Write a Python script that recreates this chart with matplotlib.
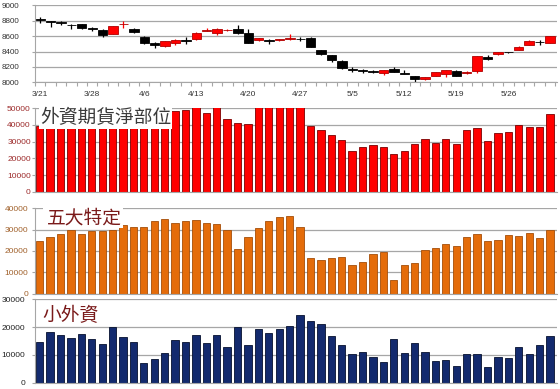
import numpy as np
import matplotlib.pyplot as plt
from matplotlib.patches import Rectangle

plt.rcParams['font.family'] = ['Liberation Sans', 'Noto Sans CJK TC', 'DejaVu Sans']

# Date labels shown every 5 trading days
date_labels = ['3/21', '3/28', '4/6', '4/13', '4/20', '4/27', '5/5', '5/12', '5/19', '5/26']

# Daily index OHLC
price_open = [8820, 8790, 8775, 8745, 8750, 8700, 8680, 8625, 8750, 8690,
              8590, 8515, 8465, 8515, 8545, 8560, 8670, 8640, 8675, 8690,
              8635, 8555, 8550, 8545, 8565, 8565, 8580, 8420, 8355, 8280,
              8170, 8155, 8145, 8125, 8180, 8120, 8080, 8040, 8085, 8110,
              8150, 8125, 8150, 8323, 8365, 8395, 8420, 8485, 8528, 8515]
price_high = [8840, 8800, 8800, 8760, 8760, 8720, 8690, 8735, 8800, 8700,
              8600, 8520, 8535, 8560, 8590, 8650, 8710, 8700, 8690, 8740,
              8690, 8570, 8560, 8565, 8625, 8590, 8585, 8425, 8360, 8285,
              8200, 8170, 8160, 8165, 8200, 8160, 8090, 8070, 8140, 8160,
              8165, 8150, 8345, 8355, 8400, 8400, 8465, 8550, 8555, 8605]
price_low = [8770, 8720, 8740, 8690, 8690, 8670, 8590, 8620, 8700, 8640,
             8500, 8450, 8455, 8480, 8500, 8555, 8660, 8610, 8670, 8630,
             8510, 8530, 8500, 8530, 8545, 8530, 8455, 8360, 8260, 8180,
             8140, 8120, 8120, 8100, 8130, 8110, 8010, 8030, 8080, 8070,
             8080, 8110, 8120, 8290, 8360, 8385, 8415, 8480, 8485, 8510]
price_close = [8810, 8785, 8770, 8740, 8700, 8695, 8615, 8730, 8755, 8650,
               8515, 8490, 8530, 8555, 8530, 8645, 8677, 8690, 8677, 8635,
               8515, 8568, 8540, 8560, 8575, 8560, 8460, 8370, 8285, 8185,
               8165, 8150, 8130, 8160, 8140, 8115, 8050, 8065, 8135, 8155,
               8085, 8134, 8340, 8300, 8395, 8390, 8460, 8530, 8524, 8600]

# Foreign futures net position (bars 2-13 are hidden under the title box)
foreign_net = [39500, 44000, 45000, 43000, 44500, 46000, 45000, 44000, 43500, 45500,
               46000, 47000, 47500, 48400, 48800, 52000, 46800, 52000, 43400, 41000,
               40600, 52000, 52000, 52000, 52000, 52000, 39400, 36800, 33800, 31200,
               24400, 26600, 28200, 27000, 22600, 24400, 28600, 31800, 29000, 31800,
               28800, 37200, 38000, 30400, 35000, 36000, 40000, 38600, 38800, 46600]

# Top five traders
big_five = [24700, 26400, 28100, 30000, 28000, 29100, 29100, 30000, 32000, 31200,
            31200, 33800, 34700, 33000, 34100, 34400, 33000, 32500, 30000, 20900,
            26700, 30800, 33800, 35800, 36400, 31200, 16900, 15900, 16700, 17300,
            13600, 15000, 18600, 19700, 6600, 13300, 14400, 20600, 21300, 23300,
            22300, 26600, 27700, 24700, 25300, 27300, 27000, 28300, 25800, 30000]

# Small foreign traders
small_foreign = [14600, 18300, 17000, 15900, 17600, 15700, 13900, 19900, 16500, 14800,
                 7200, 8600, 10800, 15200, 14800, 17200, 14200, 17000, 12800, 20100,
                 13600, 19300, 18000, 19300, 20200, 24200, 22300, 21000, 16900, 13600,
                 10400, 11200, 9200, 7500, 15700, 10800, 14200, 11100, 7800, 8000,
                 6000, 10200, 10200, 5700, 9400, 8800, 12800, 10200, 13400, 16600]

n = len(price_open)
x = np.arange(n)
xlim = (-0.45, n - 1 + 0.72)
grid_color = '#a6a6a6'

fig = plt.figure(figsize=(5.6, 3.89), dpi=100)
left, width = 0.0625, 0.933
ax_k = fig.add_axes([left, 0.788, width, 0.199])
ax_f = fig.add_axes([left, 0.507, width, 0.215])
ax_b = fig.add_axes([left, 0.245, width, 0.220])
ax_s = fig.add_axes([left, 0.016, width, 0.215])


def style_axis(ax, ymin, ymax, step, label_color, pad, size=6):
    ax.set_xlim(*xlim)
    ax.set_ylim(ymin, ymax)
    ax.set_yticks(np.arange(ymin, ymax + 1, step))
    ax.yaxis.grid(True, color=grid_color, linewidth=0.9)
    ax.set_axisbelow(True)
    for side in ['top', 'right']:
        ax.spines[side].set_visible(False)
    ax.spines['left'].set_color(grid_color)
    ax.spines['bottom'].set_color(grid_color)
    ax.tick_params(axis='y', length=2, width=0.8, color=grid_color, pad=pad,
                   labelsize=size, labelcolor=label_color)
    ax.set_xticks([])


# Candlestick panel
style_axis(ax_k, 8000, 9000, 200, '#333333', 9, 5.8)
body_low = np.minimum(price_open, price_close)
body_h = np.maximum(np.abs(np.array(price_close) - np.array(price_open)), 5)
colors = ['#ff0000' if c > o else '#000000' for o, c in zip(price_open, price_close)]
edges = ['#b00000' if c > o else '#000000' for o, c in zip(price_open, price_close)]
ax_k.vlines(x, price_low, price_high, color=colors, linewidth=0.9, zorder=2)
ax_k.bar(x, body_h, bottom=body_low, width=0.9, color=colors, edgecolor=edges,
         linewidth=0.6, zorder=3)
ax_k.set_xticks(np.arange(-0.5, n, 1))
ax_k.set_xticklabels([])
ax_k.tick_params(axis='x', length=3, width=0.8, color=grid_color)
ax_k.set_xticks(np.arange(0, n, 5), minor=True)
ax_k.set_xticklabels(date_labels, minor=True)
ax_k.tick_params(axis='x', which='minor', length=0, pad=6, labelsize=6, labelcolor='#333333')

# Foreign futures net position
style_axis(ax_f, 0, 50000, 10000, '#9c2a2a', 1)
ax_f.bar(x, foreign_net, width=0.7, color='#ff0000', edgecolor='#7a0000', linewidth=0.6)
ax_f.add_patch(Rectangle((0.008, 0.752), 0.254, 0.26, transform=ax_f.transAxes,
                         facecolor='white', edgecolor='none', zorder=4, clip_on=False))
ax_f.text(0.0096, 0.885, '外資期貨淨部位', transform=ax_f.transAxes, fontsize=13.5,
          family=['Noto Sans CJK TC'], color='#3a3a3a', va='center', ha='left', zorder=5)

# Top five traders
style_axis(ax_b, 0, 40000, 10000, '#a0602a', 3)
ax_b.bar(x, big_five, width=0.7, color='#e46c0a', edgecolor='#a44e08', linewidth=0.6)
ax_b.add_patch(Rectangle((0.015, 0.77), 0.153, 0.24, transform=ax_b.transAxes,
                         facecolor='white', edgecolor='none', zorder=4, clip_on=False))
ax_b.text(0.022, 0.88, '五大特定', transform=ax_b.transAxes, fontsize=13.5,
          family=['Noto Sans CJK TC'], color='#7a1a1a', va='center', ha='left', zorder=5)

# Small foreign traders
style_axis(ax_s, 0, 30000, 10000, '#222222', 5)
ax_s.bar(x, small_foreign, width=0.7, color='#132a6e', edgecolor='#05102e', linewidth=0.6)
ax_s.text(0.015, 0.80, '小外資', transform=ax_s.transAxes, fontsize=13.5,
          family=['Noto Sans CJK TC'], color='#7a1a1a', va='center', ha='left', zorder=5)

fig.savefig('out.png', dpi=100)
